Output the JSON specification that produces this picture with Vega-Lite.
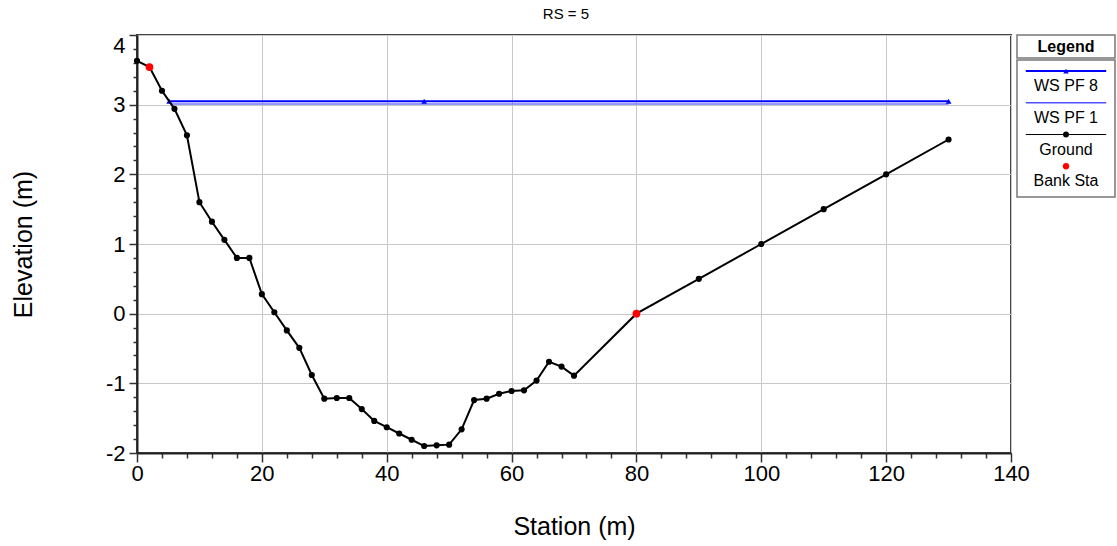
{
  "$schema": "https://vega.github.io/schema/vega-lite/v6.json",
  "autosize": {"type": "pad"},
  "padding": {"left": 10, "top": 6, "right": 1, "bottom": 2},
  "background": "white",
  "config": {
    "font": "Liberation Sans",
    "concat": {"spacing": 6}
  },
  "datasets": {
    "profile": [
      {"series": "Ground", "station": 0, "elevation": 3.63},
      {"series": "Ground", "station": 2, "elevation": 3.54},
      {"series": "Ground", "station": 4, "elevation": 3.2},
      {"series": "Ground", "station": 6, "elevation": 2.94},
      {"series": "Ground", "station": 8, "elevation": 2.56},
      {"series": "Ground", "station": 10, "elevation": 1.6},
      {"series": "Ground", "station": 12, "elevation": 1.32},
      {"series": "Ground", "station": 14, "elevation": 1.06},
      {"series": "Ground", "station": 16, "elevation": 0.8},
      {"series": "Ground", "station": 18, "elevation": 0.8},
      {"series": "Ground", "station": 20, "elevation": 0.28},
      {"series": "Ground", "station": 22, "elevation": 0.02},
      {"series": "Ground", "station": 24, "elevation": -0.24},
      {"series": "Ground", "station": 26, "elevation": -0.49},
      {"series": "Ground", "station": 28, "elevation": -0.88},
      {"series": "Ground", "station": 30, "elevation": -1.22},
      {"series": "Ground", "station": 32, "elevation": -1.21},
      {"series": "Ground", "station": 34, "elevation": -1.21},
      {"series": "Ground", "station": 36, "elevation": -1.37},
      {"series": "Ground", "station": 38, "elevation": -1.54},
      {"series": "Ground", "station": 40, "elevation": -1.63},
      {"series": "Ground", "station": 42, "elevation": -1.72},
      {"series": "Ground", "station": 44, "elevation": -1.81},
      {"series": "Ground", "station": 46, "elevation": -1.9},
      {"series": "Ground", "station": 48, "elevation": -1.89},
      {"series": "Ground", "station": 50, "elevation": -1.88},
      {"series": "Ground", "station": 52, "elevation": -1.66},
      {"series": "Ground", "station": 54, "elevation": -1.24},
      {"series": "Ground", "station": 56, "elevation": -1.22},
      {"series": "Ground", "station": 58, "elevation": -1.15},
      {"series": "Ground", "station": 60, "elevation": -1.11},
      {"series": "Ground", "station": 62, "elevation": -1.1},
      {"series": "Ground", "station": 64, "elevation": -0.96},
      {"series": "Ground", "station": 66, "elevation": -0.69},
      {"series": "Ground", "station": 68, "elevation": -0.76},
      {"series": "Ground", "station": 70, "elevation": -0.89},
      {"series": "Ground", "station": 80, "elevation": 0.0},
      {"series": "Ground", "station": 90, "elevation": 0.5},
      {"series": "Ground", "station": 100, "elevation": 1.0},
      {"series": "Ground", "station": 110, "elevation": 1.5},
      {"series": "Ground", "station": 120, "elevation": 2.0},
      {"series": "Ground", "station": 130, "elevation": 2.5},
      {"series": "Bank Sta", "station": 2, "elevation": 3.54},
      {"series": "Bank Sta", "station": 80, "elevation": 0.0},
      {"series": "WS PF 8", "station": 5.15, "elevation": 3.05},
      {"series": "WS PF 8", "station": 46, "elevation": 3.05},
      {"series": "WS PF 8", "station": 130, "elevation": 3.05},
      {"series": "WS PF 1", "station": 5.46, "elevation": 3.01},
      {"series": "WS PF 1", "station": 130, "elevation": 3.01}
    ],
    "legendItems": [
      {"series": "WS PF 8"},
      {"series": "WS PF 1"},
      {"series": "Ground"},
      {"series": "Bank Sta"}
    ]
  },
  "bounds": "flush",
  "hconcat": [
    {
      "title": {"text": "RS = 5", "fontSize": 15, "fontWeight": "normal", "color": "black", "anchor": "middle", "dx": -8, "offset": 12},
      "width": 874,
      "height": 418,
      "view": {"stroke": "#444", "strokeWidth": 2},
      "data": {"name": "profile"},
      "encoding": {
        "x": {
          "field": "station",
          "type": "quantitative",
          "scale": {"domain": [0, 140], "nice": false, "zero": false},
          "axis": {
            "title": "Station (m)",
            "titleFontSize": 25,
            "titleFontWeight": "normal",
            "titleColor": "black",
            "titlePadding": 30,
            "values": [0, 4, 8, 12, 16, 20, 24, 28, 32, 36, 40, 44, 48, 52, 56, 60, 64, 68, 72, 76, 80, 84, 88, 92, 96, 100, 104, 108, 112, 116, 120, 124, 128, 132, 136, 140],
            "labelExpr": "datum.value % 20 === 0 ? '' + datum.value : ''",
            "labelFontSize": 22,
            "labelColor": "black",
            "labelPadding": 1,
            "labelOverlap": false,
            "labelFlush": false,
            "domainColor": "#222",
            "domainWidth": 2,
            "tickColor": "#333",
            "tickWidth": 1.5,
            "tickSize": {"condition": {"test": "datum.value % 20 === 0", "value": 9}, "value": 5},
            "grid": true,
            "gridColor": "#c8c8c8",
            "gridWidth": 1,
            "gridOpacity": {"condition": {"test": "datum.value % 20 === 0", "value": 1}, "value": 0}
          }
        },
        "y": {
          "field": "elevation",
          "type": "quantitative",
          "scale": {"domain": [-2, 4], "nice": false, "zero": false},
          "axis": {
            "title": "Elevation (m)",
            "titleFontSize": 25,
            "titleFontWeight": "normal",
            "titleColor": "black",
            "titlePadding": 69,
            "values": [-2, -1.8, -1.6, -1.4, -1.2, -1, -0.8, -0.6, -0.4, -0.2, 0, 0.2, 0.4, 0.6, 0.8, 1, 1.2, 1.4, 1.6, 1.8, 2, 2.2, 2.4, 2.6, 2.8, 3, 3.2, 3.4, 3.6, 3.8, 4],
            "labelExpr": "abs(datum.value - round(datum.value)) < 0.001 ? '' + round(datum.value) : ''",
            "labelFontSize": 22,
            "labelColor": "black",
            "labelPadding": 4,
            "labelOverlap": false,
            "labelFlush": false,
            "labelBaseline": {"condition": {"test": "datum.value >= 3.99", "value": "top"}, "value": "middle"},
            "domainColor": "#222",
            "domainWidth": 2,
            "tickColor": "#333",
            "tickWidth": 1.5,
            "tickSize": {"condition": {"test": "abs(datum.value - round(datum.value)) < 0.001", "value": 8}, "value": 4},
            "grid": true,
            "gridColor": "#c8c8c8",
            "gridWidth": 1,
            "gridOpacity": {"condition": {"test": "abs(datum.value - round(datum.value)) < 0.001", "value": 1}, "value": 0}
          }
        }
      },
      "layer": [
        {
          "transform": [{"filter": "datum.series === 'WS PF 1'"}],
          "mark": {"type": "line", "color": "#7373ff", "strokeWidth": 1.5}
        },
        {
          "transform": [{"filter": "datum.series === 'WS PF 8'"}],
          "mark": {"type": "line", "color": "#0000ff", "strokeWidth": 2,
                   "point": {"shape": "triangle-up", "size": 32, "filled": true, "color": "#0000ff"}}
        },
        {
          "transform": [{"filter": "datum.series === 'Ground'"}],
          "mark": {"type": "line", "color": "black", "strokeWidth": 2,
                   "point": {"shape": "circle", "size": 38, "filled": true, "color": "black"}}
        },
        {
          "transform": [{"filter": "datum.series === 'Bank Sta'"}],
          "mark": {"type": "point", "shape": "circle", "size": 60, "filled": true, "color": "#ff0000", "opacity": 1}
        }
      ]
    },
    {
      "vconcat": [
        {
          "width": 98,
          "height": 23,
          "view": {"stroke": "#777", "strokeWidth": 1.5},
          "data": {"values": [{"heading": "Legend"}]},
          "mark": {"type": "text", "fontSize": 16, "fontWeight": "bold", "color": "black", "baseline": "middle", "align": "center"},
          "encoding": {"text": {"field": "heading", "type": "nominal"}}
        },
        {
          "width": 98,
          "height": 137,
          "view": {"stroke": "#777", "strokeWidth": 1.5},
          "data": {"name": "legendItems"},
          "encoding": {
            "y": {
              "field": "series",
              "type": "nominal",
              "sort": null,
              "scale": {"type": "band", "paddingInner": 0, "paddingOuter": 0.16, "align": 0},
              "axis": null
            }
          },
          "layer": [
            {
              "transform": [{"filter": "datum.series !== 'Bank Sta'"}],
              "mark": {"type": "rule"},
              "encoding": {
                "x": {"datum": 0.09, "type": "quantitative", "scale": {"domain": [0, 1]}, "axis": null},
                "x2": {"datum": 0.91},
                "y": {"field": "series", "type": "nominal", "sort": null, "bandPosition": 0.35},
                "color": {"field": "series", "type": "nominal", "legend": null,
                          "scale": {"domain": ["WS PF 8", "WS PF 1", "Ground"], "range": ["#0000ff", "#5050ff", "black"]}},
                "strokeWidth": {"field": "series", "type": "nominal", "legend": null,
                                "scale": {"domain": ["WS PF 8", "WS PF 1", "Ground"], "range": [2, 1, 2.5]}}
              }
            },
            {
              "transform": [{"filter": "datum.series !== 'WS PF 1'"}],
              "mark": {"type": "point", "filled": true, "opacity": 1, "size": 40},
              "encoding": {
                "x": {"datum": 0.5, "type": "quantitative", "scale": {"domain": [0, 1]}, "axis": null},
                "y": {"field": "series", "type": "nominal", "sort": null, "bandPosition": 0.35},
                "shape": {"field": "series", "type": "nominal", "legend": null,
                          "scale": {"domain": ["WS PF 8", "Ground", "Bank Sta"], "range": ["triangle-up", "circle", "circle"]}},
                "fill": {"field": "series", "type": "nominal", "legend": null,
                         "scale": {"domain": ["WS PF 8", "Ground", "Bank Sta"], "range": ["#0000ff", "black", "#ff0000"]}},
                "size": {"field": "series", "type": "nominal", "legend": null,
                         "scale": {"domain": ["WS PF 8", "Ground", "Bank Sta"], "range": [30, 40, 55]}}
              }
            },
            {
              "mark": {"type": "text", "fontSize": 16, "color": "black", "baseline": "middle", "align": "center"},
              "encoding": {
                "x": {"datum": 0.5, "type": "quantitative", "scale": {"domain": [0, 1]}, "axis": null},
                "y": {"field": "series", "type": "nominal", "sort": null, "bandPosition": 0.83},
                "text": {"field": "series", "type": "nominal"}
              }
            }
          ]
        }
      ],
      "spacing": 0
    }
  ]
}
